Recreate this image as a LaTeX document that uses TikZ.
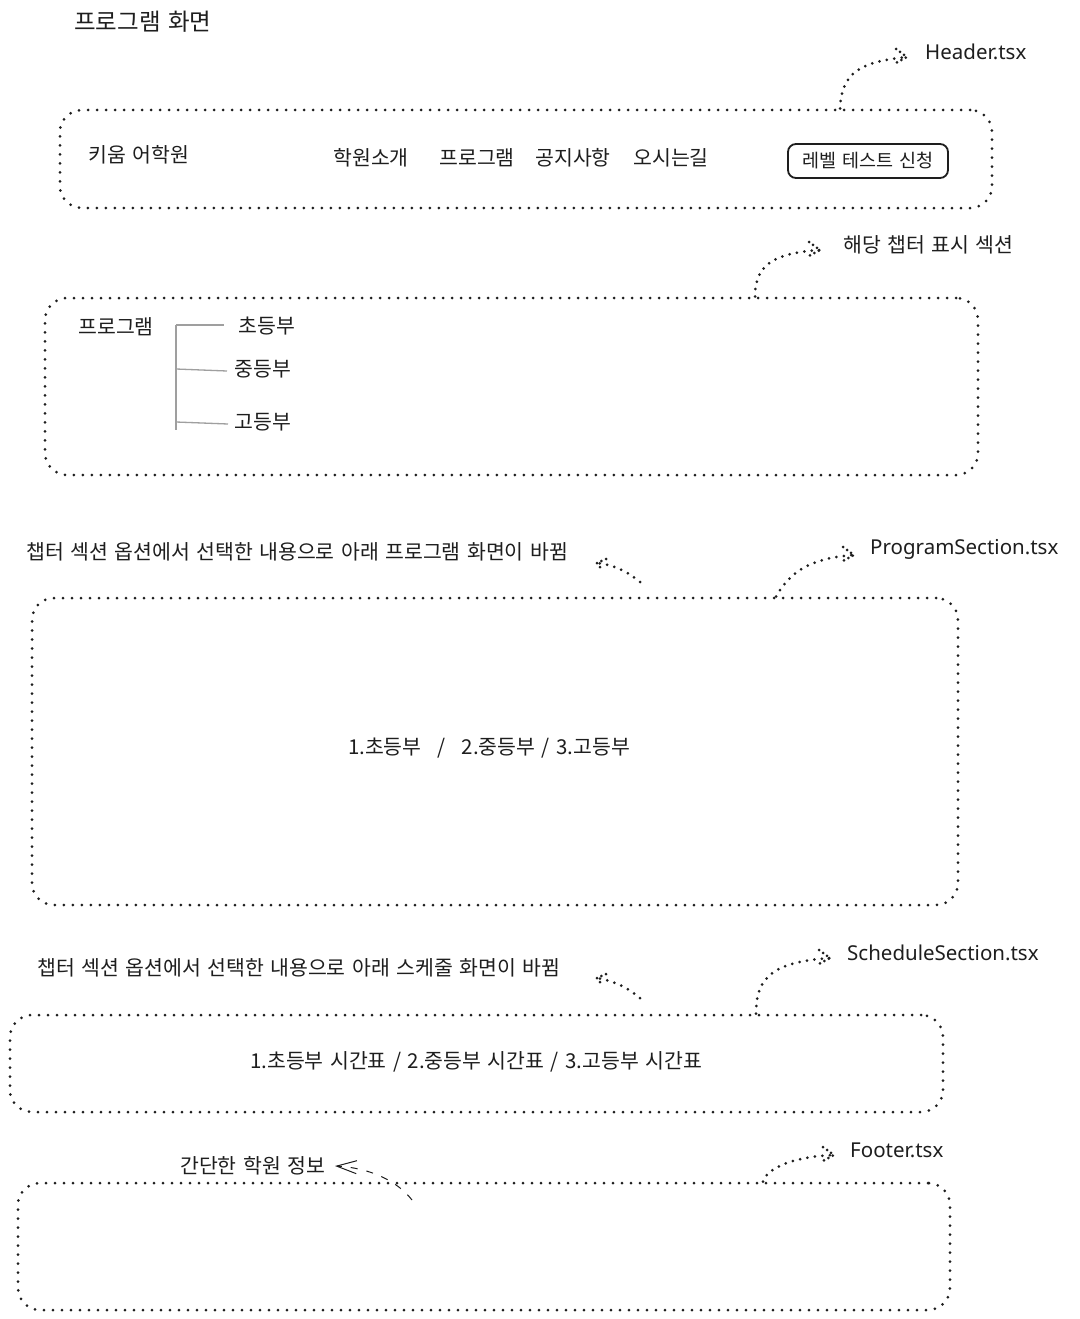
\documentclass[tikz,border=0pt]{standalone}
\usepackage{fontspec}
\setmainfont[WordSpace=1.4]{Noto Sans CJK KR}
\newfontfamily\hand{Noto Sans}
\usetikzlibrary{arrows.meta,calc}
\definecolor{ink}{HTML}{1E1E1E}
\tikzset{
  box/.style={draw=ink, line width=3pt, dash pattern=on 0pt off 9pt, line cap=round, rounded corners=22pt, inner sep=0pt},
  dotline/.style={draw=ink, line width=3pt, dash pattern=on 0pt off 7.5pt, line cap=round},
  dotbarb/.style={draw=ink, line width=3pt, dash pattern=on 0pt off 5pt, line cap=round},
  ktext/.style={text=ink, font=\fontsize{20.5}{24}\selectfont, inner sep=0pt},
  fname/.style={text=ink, font=\hand\fontsize{20.5}{24}\selectfont, inner sep=0pt, anchor=west},
  tree/.style={draw=gray!75, line width=1.3pt},
  btn/.style={draw=ink, line width=1.8pt, rounded corners=8pt, minimum width=160pt, minimum height=34pt, inner sep=0pt, text=ink, font=\fontsize{18.5}{21}\selectfont},
}
\begin{document}
\begin{tikzpicture}[x=1pt,y=-1pt]
\useasboundingbox[fill=white] (0,0) rectangle (1079,1319);

% title
\node[ktext, font=\fontsize{23.5}{27}\selectfont, anchor=west] (title) at (74,22) {프로그램 화면};

% header
\node[box, minimum width=932pt, minimum height=98pt] (hdr) at (526,159) {};
\node[ktext] (logo) at (139,155) {키움 어학원};
\node[ktext] (m1) at (371,158) {학원소개};
\node[ktext] (m2) at (477,158) {프로그램};
\node[ktext] (m3) at (573,158) {공지사항};
\node[ktext] (m4) at (671,158) {오시는길};
\node[btn] (lvl) at (868,161) {레벨 테스트 신청};
\node[fname] (hlbl) at (925,52) {Header.tsx};
\coordinate (hA) at (hdr.north -| 840,0);
\coordinate (hE) at (907,57);
\draw[dotline] (hA) .. controls (842,72) and (860,62) .. (hE);
\draw[dotbarb] (896,49) -- (hE) -- (894,64);

% chapter section
\node[box, minimum width=933pt, minimum height=177pt] (chap) at (511.5,386.5) {};
\node[ktext, anchor=west] (clbl) at (843,245) {해당 챕터 표시 섹션};
\coordinate (cA) at (chap.north -| 755,0);
\coordinate (cE) at (820,250);
\draw[dotline] (cA) .. controls (755,264) and (775,253) .. (cE);
\draw[dotbarb] (809,242) -- (cE) -- (807,257);
\node[ktext] (prg) at (116,327) {프로그램};
\node[ktext] (t1) at (267,326) {초등부};
\node[ktext] (t2) at (263,369) {중등부};
\node[ktext] (t3) at (263,422) {고등부};
\coordinate (tr0) at (176,325);
\coordinate (tr3) at (176,430);
\draw[tree] (tr0) -- (tr3);
\draw[tree] (tr0) -- (224,325);
\draw[tree] (tr0 |- t2) -- (227,371);
\draw[tree] (tr0 |- t3) -- (228,424);

% program section
\node[box, minimum width=926pt, minimum height=307pt] (prog) at (495,751.5) {};
\node[ktext, anchor=west] (s1) at (26,552) {챕터 섹션 옵션에서 선택한 내용으로 아래 프로그램 화면이 바뀜};
\node[fname] (plbl) at (870,549) {ProgramSection.tsx};
\coordinate (pA) at (prog.north -| 776,0);
\coordinate (pE) at (854,555);
\draw[dotline] (pA) .. controls (790,572) and (810,558) .. (pE);
\draw[dotbarb] (843,547) -- (pE) -- (841,562);
\coordinate (s1A) at (640,582);
\coordinate (s1E) at (597,563);
\draw[dotline] (s1A) .. controls (628,572) and (615,565) .. (s1E);
\draw[dotbarb] (606,559) -- (s1E) -- (603,571);
\node[ktext] (ptxt) at (489,748) {1.초등부\hspace{16pt}/\hspace{16pt}2.중등부 / 3.고등부};

% schedule section
\node[box, minimum width=933pt, minimum height=97pt] (sched) at (476.5,1063.5) {};
\node[ktext, anchor=west] (s2) at (37,968) {챕터 섹션 옵션에서 선택한 내용으로 아래 스케줄 화면이 바뀜};
\node[fname] (slbl) at (847,953) {ScheduleSection.tsx};
\coordinate (sA) at (sched.north -| 756,0);
\coordinate (sE) at (830,958);
\draw[dotline] (sA) .. controls (756,978) and (772,962) .. (sE);
\draw[dotbarb] (819,950) -- (sE) -- (817,965);
\coordinate (s2A) at (640,998);
\coordinate (s2E) at (597,978);
\draw[dotline] (s2A) .. controls (628,988) and (615,981) .. (s2E);
\draw[dotbarb] (606,974) -- (s2E) -- (603,986);
\node[ktext] (stxt) at (476,1062) {1.초등부 시간표 / 2.중등부 시간표 / 3.고등부 시간표};

% footer
\node[box, minimum width=932pt, minimum height=127pt] (foot) at (484,1246.5) {};
\node[ktext, anchor=west] (finfo) at (180,1166) {간단한 학원 정보};
\node[fname] (flbl) at (850,1150) {Footer.tsx};
\coordinate (fA) at (foot.north -| 763,0);
\coordinate (fE) at (834,1155);
\draw[dotline] (fA) .. controls (765,1172) and (785,1157) .. (fE);
\draw[dotbarb] (823,1147) -- (fE) -- (821,1162);
\coordinate (fB) at (412,1200);
\coordinate (fF) at (335,1166);
\draw[draw=ink, line width=1pt, dash pattern=on 7pt off 9pt, -{Straight Barb[length=20pt,width=13pt,line width=1pt]}]
  (fB) .. controls (398,1182) and (372,1168) .. (fF);
\end{tikzpicture}
\end{document}
